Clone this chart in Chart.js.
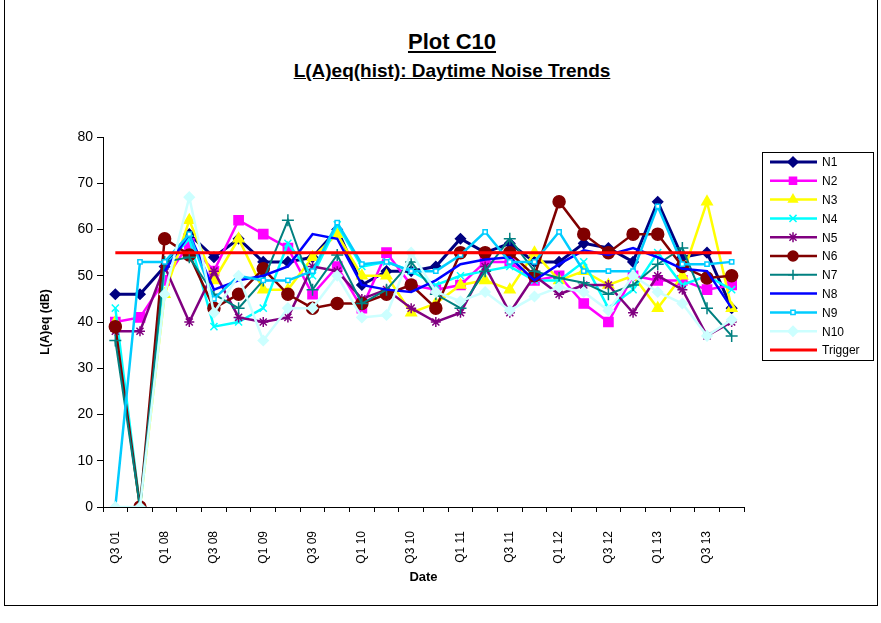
<!DOCTYPE html>
<html>
<head>
<meta charset="utf-8">
<script src="https://cdn.jsdelivr.net/npm/chart.js@4.4.0/dist/chart.umd.min.js"></script>
<style>
  html, body { margin:0; padding:0; background:#fff; }
  #wrap { position:relative; width:881px; height:623px; overflow:hidden; }
  #frame { position:absolute; left:4px; top:-1px; width:872px; height:606px;
           border:1px solid #000; border-top:none; }
  .ttl { position:absolute; left:452px; transform:translateX(-50%); white-space:nowrap;
         font-family:"Liberation Sans", Arial, sans-serif; font-weight:bold;
         text-decoration:underline; color:#000; }
  #t1 { top:29px; font-size:22px; }
  #t2 { top:60px; font-size:19px; }
  canvas { position:absolute; left:0; top:0; }
</style>
</head>
<body>
<div id="wrap">
  <div id="frame"></div>
  <div class="ttl" id="t1">Plot C10</div>
  <div class="ttl" id="t2">L(A)eq(hist): Daytime Noise Trends</div>
  <canvas id="c" width="881" height="623"></canvas>
</div>
<script>
// quarters (only every second one is labelled on the axis)
const quarters = ['Q3 01','Q4 07','Q1 08','Q2 08','Q3 08','Q4 08','Q1 09','Q2 09','Q3 09','Q4 09',
  'Q1 10','Q2 10','Q3 10','Q4 10','Q1 11','Q2 11','Q3 11','Q4 11','Q1 12','Q2 12',
  'Q3 12','Q4 12','Q1 13','Q2 13','Q3 13','Q4 13'];

const n1  = [46,46,52,59,54,58,53,53,54,60,48,51,51,52,58,55,57,53,53,57,56,53,66,54,55,43];
const n2  = [40,41,49,57,51,62,59,56,46,52,43,55,48,47,48,53,53,49,50,44,40,50,49,49,47,48];
const n3  = [40,0,46,62,49,58,47,47,54,59,50,50,42,44,48,49,47,55,49,51,48,50,43,50,66,43];
const n4  = [43,0,52,58,39,40,43,57,50,61,52,53,51,48,50,51,52,49,49,53,43,47,55,48,50,47];
const n5  = [38,38,52,40,51,41,40,41,52,51,45,47,43,40,42,52,42,50,46,48,48,42,50,47,37,40];
const n6  = [39,0,58,54.5,43,46,51.5,46,43,44,44,46,48,43,55,55,55,50,66,59,55,59,59,52,49.5,50];
const n7  = [36,0,53,54,46,43,49,62,47,54.5,44,47,53,46,43,51,58,51,49.5,48.5,46,48,52.5,56,43,37];
const n8  = [null,null,51,59,47,49,50,52,59,58,48,47,46.5,49,52.5,53.5,54,49,52.5,55.5,54.5,56,54,51.5,51,43];
const n9  = [0,53,53,59,45,50,49,49,51,61.5,52.5,53,51,51,54.5,59.5,53,53,59.5,51,51,51,65,52.5,52.5,53];
const n10 = [0,0,46,67,42,50,36,43,43,50,41,41.5,55,46.5,44.5,46.5,42.5,45.5,47.5,46.5,42.5,50,46.5,44,37,40.5];
const trigger = [55,55,55,55,55,55,55,55,55,55,55,55,55,55,55,55,55,55,55,55,55,55,55,55,55,55];

const yTicks = [0,10,20,30,40,50,60,70,80];

function series(label, data, color, style, radius, width, fill){
  return {
    label, data,
    borderColor: color,
    backgroundColor: fill || color,
    pointBorderColor: color,
    pointBackgroundColor: fill || color,
    pointStyle: style,
    pointRadius: radius,
    pointBorderWidth: 1.5,
    borderWidth: width,
    tension: 0,
    spanGaps: false
  };
}

const datasets = [
  series('N1',  n1,  '#000080', 'rectRot', 5, 3),
  series('N2',  n2,  '#FF00FF', 'rect', 6.5, 2.5),
  series('N3',  n3,  '#FFFF00', 'triangle', 6, 2.5),
  series('N4',  n4,  '#00FFFF', 'crossRot', 5, 2.5),
  series('N5',  n5,  '#800080', 'star', 5, 2.5),
  series('N6',  n6,  '#800000', 'circle', 6, 2.5),
  series('N7',  n7,  '#008080', 'cross', 6, 2),
  series('N8',  n8,  '#0000FF', 'circle', 0, 2.5),
  series('N9',  n9,  '#00CCFF', 'rect', 3, 2.5, '#ffffff'),
  series('N10', n10, '#CCFFFF', 'rectRot', 5, 2.5),
  series('Trigger', trigger, '#FF0000', 'circle', 0, 3)
];
// later series drawn on top, like the spreadsheet
datasets.forEach((d, i) => { d.order = datasets.length - i; });

// hand drawn legend box on the right
const boxLegend = {
  id: 'boxLegend',
  afterDraw(chart){
    const ctx = chart.ctx;
    const x0 = 762, y0 = 152, w = 111, h = 208;
    ctx.save();
    ctx.strokeStyle = '#000';
    ctx.lineWidth = 1;
    ctx.strokeRect(x0 + 0.5, y0 + 0.5, w, h);
    ctx.font = '12px "Liberation Sans", Arial, sans-serif';
    ctx.textBaseline = 'middle';
    chart.data.datasets.forEach((ds, i) => {
      const y = 162 + i * 18.8;
      ctx.strokeStyle = ds.borderColor;
      ctx.lineWidth = ds.borderWidth;
      ctx.beginPath();
      ctx.moveTo(770, y);
      ctx.lineTo(817, y);
      ctx.stroke();
      if (ds.pointRadius > 0 && Chart.helpers && Chart.helpers.drawPoint){
        ctx.fillStyle = ds.pointBackgroundColor;
        ctx.strokeStyle = ds.pointBorderColor;
        ctx.lineWidth = 1.5;
        Chart.helpers.drawPoint(ctx, {pointStyle: ds.pointStyle, radius: Math.min(ds.pointRadius, 5), rotation: 0, borderWidth: 1.5}, 793, y);
      }
      ctx.fillStyle = '#000';
      ctx.fillText(ds.label, 822, y + 1);
    });
    ctx.restore();
  }
};

new Chart(document.getElementById('c').getContext('2d'), {
  type: 'line',
  data: { labels: quarters, datasets },
  options: {
    responsive: false,
    animation: false,
    layout: { padding: { left: 0, right: 137, top: 137, bottom: 0 } },
    plugins: {
      legend: { display: false },
      title: { display: false },
      tooltip: { enabled: false }
    },
    scales: {
      x: {
        offset: true,
        grid: { display: true, offset: true, drawOnChartArea: false, drawTicks: true,
                tickLength: 5, color: '#000', lineWidth: 1 },
        border: { display: true, color: '#000', width: 1 },
        ticks: {
          autoSkip: false, minRotation: 90, maxRotation: 90, padding: 19,
          color: '#000', font: { family: '"Liberation Sans", Arial, sans-serif', size: 12 },
          callback: (v, i) => (i % 2 === 0 ? quarters[i] : '')
        },
        title: { display: true, text: 'Date', color: '#000',
                 font: { family: '"Liberation Sans", Arial, sans-serif', size: 13, weight: 'bold' },
                 padding: { top: 0, bottom: 38 } },
        afterFit: s => { s.height = 116; }
      },
      y: {
        min: 0, max: 80,
        afterBuildTicks: s => { s.ticks = yTicks.map(v => ({ value: v })); },
        grid: { display: true, drawOnChartArea: false, drawTicks: true, tickLength: 6,
                color: '#000', lineWidth: 1 },
        border: { display: true, color: '#000', width: 1 },
        ticks: { color: '#000', padding: 4,
                 font: { family: '"Liberation Sans", Arial, sans-serif', size: 14 } },
        title: { display: true, text: 'L(A)eq (dB)', color: '#000',
                 font: { family: '"Liberation Sans", Arial, sans-serif', size: 12, weight: 'bold' },
                 padding: { top: 38, bottom: 0 } },
        afterFit: s => { s.width = 103; }
      }
    }
  },
  plugins: [boxLegend]
});
</script>
</body>
</html>
